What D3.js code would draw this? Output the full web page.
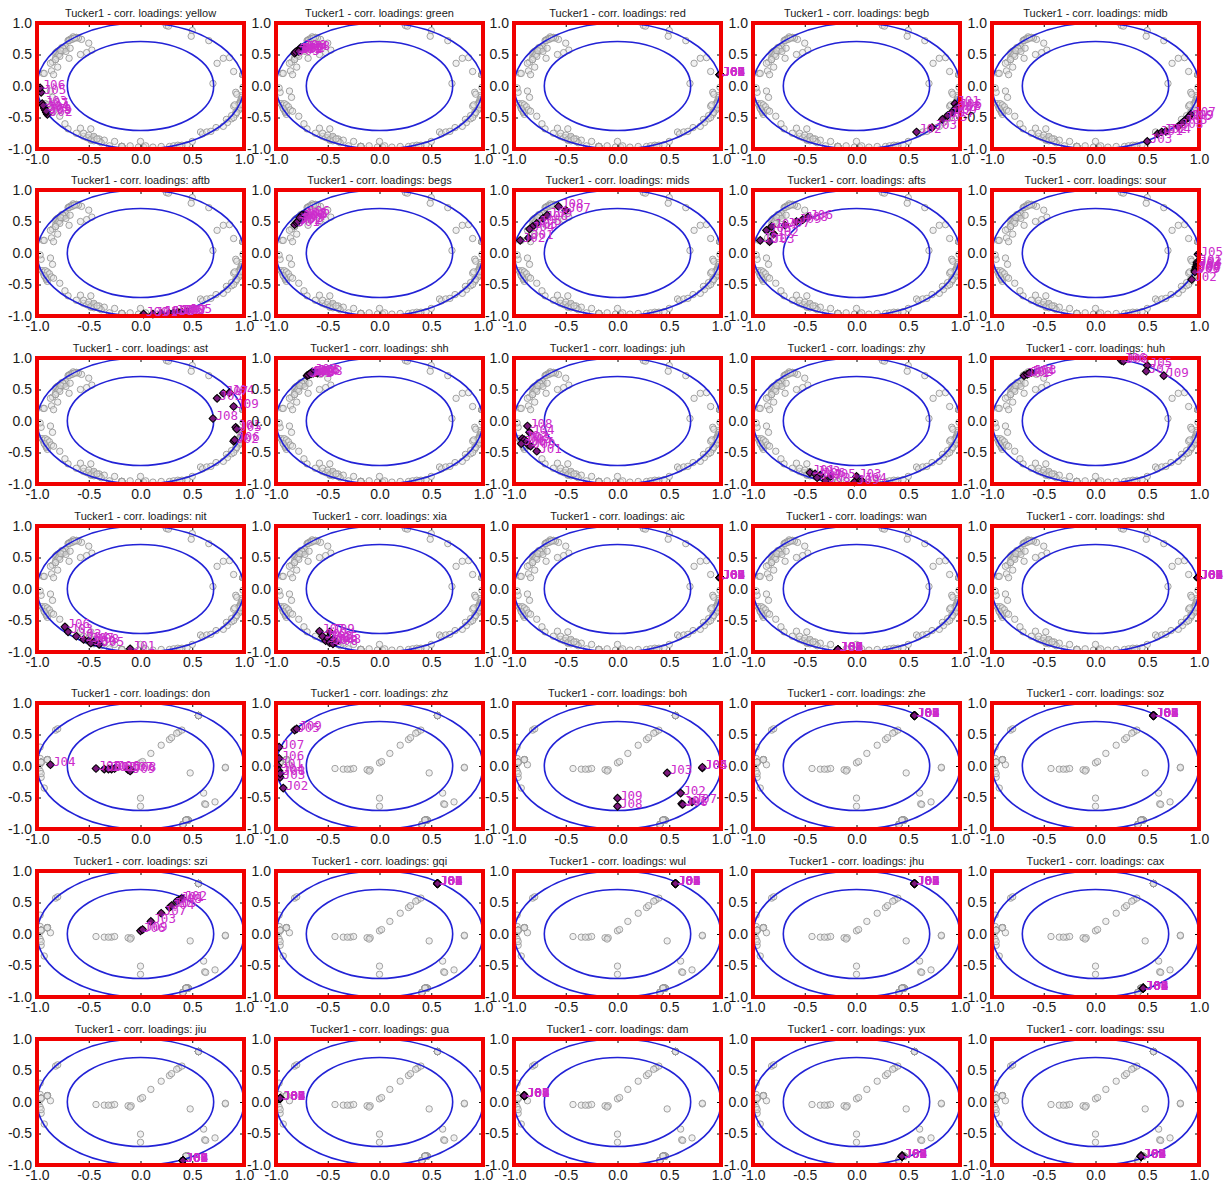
<!DOCTYPE html>
<html>
<head>
<meta charset="utf-8">
<script src="https://cdn.jsdelivr.net/npm/d3@7"></script>
<style>
  body { margin: 0; background: #fff; }
</style>
</head>
<body>
<svg id="fig" width="1227" height="1187"></svg>
<script>
// Judges (assessors) whose correlation loadings are plotted in every panel
const judges = ["J01", "J02", "J03", "J04", "J05", "J06", "J07", "J08", "J09"];

// Correlation loadings [PC1, PC2] per attribute, one pair per judge J01..J09
// --- first attribute block ---
const yellow = [[-0.92,-0.38],[-0.90,-0.45],[-0.95,-0.28],[-0.93,-0.35],[-0.96,-0.10],[-0.97,-0.03],[-0.94,-0.31],[-0.91,-0.42],[-0.91,-0.40]];
const green  = [[-0.80,0.55],[-0.77,0.57],[-0.82,0.52],[-0.74,0.60],[-0.79,0.56],[-0.76,0.61],[-0.81,0.54],[-0.72,0.59],[-0.78,0.55]];
const red    = [[0.99,0.18],[0.99,0.18],[0.99,0.18],[0.99,0.18],[0.99,0.18],[0.99,0.18],[0.99,0.18],[0.99,0.18],[0.99,0.18]];
const begb   = [[0.95,-0.28],[0.58,-0.73],[0.73,-0.66],[0.88,-0.47],[0.83,-0.53],[0.97,-0.33],[0.95,-0.38],[0.96,-0.35],[0.92,-0.42]];
const midb   = [[0.60,-0.76],[0.64,-0.73],[0.50,-0.88],[0.68,-0.72],[0.84,-0.58],[0.88,-0.52],[0.92,-0.45],[0.80,-0.64],[0.90,-0.50]];
const aftb   = [[0.12,-0.97],[0.28,-0.96],[0.20,-0.96],[0.32,-0.95],[0.45,-0.93],[0.36,-0.94],[0.40,-0.94],[0.38,-0.95],[0.03,-0.97]];
const begs   = [[-0.82,0.45],[-0.80,0.48],[-0.78,0.52],[-0.76,0.55],[-0.74,0.58],[-0.72,0.62],[-0.79,0.50],[-0.75,0.60],[-0.77,0.56]];
const mids   = [[-0.86,0.24],[-0.94,0.20],[-0.82,0.42],[-0.85,0.38],[-0.78,0.47],[-0.72,0.55],[-0.50,0.68],[-0.57,0.74],[-0.68,0.60]];
const afts   = [[-0.93,0.20],[-0.80,0.30],[-0.84,0.18],[-0.82,0.42],[-0.87,0.36],[-0.47,0.57],[-0.69,0.44],[-0.52,0.53],[-0.58,0.50]];
const sour   = [[0.98,-0.15],[0.93,-0.42],[0.98,-0.18],[0.97,-0.22],[0.99,-0.02],[0.97,-0.24],[0.97,-0.26],[0.96,-0.28],[0.96,-0.30]];
const ast    = [[0.92,-0.10],[0.90,-0.32],[0.74,0.36],[0.86,0.45],[0.93,-0.13],[0.91,-0.30],[0.80,0.44],[0.70,0.04],[0.90,0.23]];
const shh    = [[-0.70,0.72],[-0.68,0.74],[-0.66,0.75],[-0.64,0.76],[-0.62,0.77],[-0.69,0.73],[-0.65,0.78],[-0.60,0.76],[-0.67,0.75]];
const juh    = [[-0.78,-0.48],[-0.92,-0.28],[-0.90,-0.30],[-0.85,-0.18],[-0.88,-0.33],[-0.93,-0.36],[-0.86,-0.38],[-0.87,-0.08],[-0.84,-0.40]];
const zhy    = [[-0.45,-0.82],[-0.40,-0.84],[0.00,-0.88],[0.05,-0.95],[-0.25,-0.88],[-0.35,-0.86],[-0.38,-0.90],[-0.30,-0.95],[-0.02,-0.97]];
const huh    = [[-0.69,0.72],[-0.66,0.74],[-0.62,0.77],[-0.64,0.76],[0.50,0.88],[0.25,0.96],[0.49,0.79],[0.27,0.95],[0.66,0.72]];
const nit    = [[-0.10,-0.95],[-0.62,-0.75],[-0.70,-0.68],[-0.55,-0.80],[-0.40,-0.88],[-0.73,-0.60],[-0.50,-0.82],[-0.45,-0.84],[-0.48,-0.86]];
const xia    = [[-0.52,-0.82],[-0.55,-0.75],[-0.50,-0.78],[-0.48,-0.85],[-0.45,-0.80],[-0.45,-0.87],[-0.58,-0.67],[-0.42,-0.84],[-0.48,-0.68]];
const aic    = [[0.99,0.18],[0.99,0.18],[0.99,0.18],[0.99,0.18],[0.99,0.18],[0.99,0.18],[0.99,0.18],[0.99,0.18],[0.99,0.18]];
const wan    = [[-0.18,-0.96],[-0.18,-0.96],[-0.18,-0.96],[-0.18,-0.96],[-0.18,-0.96],[-0.18,-0.96],[-0.18,-0.96],[-0.18,-0.96],[-0.18,-0.96]];
const shd    = [[0.99,0.18],[0.99,0.18],[0.99,0.18],[0.99,0.18],[0.99,0.18],[0.99,0.18],[0.99,0.18],[0.99,0.18],[0.99,0.18]];

// --- second attribute block ---
const don = [[-0.35,-0.05],[-0.28,-0.05],[-0.31,-0.05],[-0.87,0.02],[-0.43,-0.04],[-0.25,-0.04],[-0.12,-0.06],[-0.09,-0.06],[-0.10,-0.08]];
const zhz = [[-0.98,0.00],[-0.93,-0.35],[-0.96,-0.18],[-0.97,-0.08],[-0.82,0.57],[-0.97,0.12],[-0.97,0.30],[-0.96,-0.12],[-0.80,0.59]];
const boh = [[0.62,-0.60],[0.61,-0.43],[0.48,-0.11],[0.82,-0.03],[0.82,-0.02],[0.63,-0.61],[0.72,-0.57],[0.00,-0.64],[0.00,-0.51]];
const zhe = [[0.56,0.80],[0.56,0.80],[0.56,0.80],[0.56,0.80],[0.56,0.80],[0.56,0.80],[0.56,0.80],[0.56,0.80],[0.56,0.80]];
const soz = [[0.56,0.80],[0.56,0.80],[0.56,0.80],[0.56,0.80],[0.56,0.80],[0.56,0.80],[0.56,0.80],[0.56,0.80],[0.56,0.80]];
const szi = [[0.37,0.54],[0.40,0.57],[0.10,0.20],[0.28,0.42],[0.30,0.45],[0.00,0.05],[0.20,0.33],[0.35,0.52],[0.02,0.07]];
const gqi = [[0.56,0.80],[0.56,0.80],[0.56,0.80],[0.56,0.80],[0.56,0.80],[0.56,0.80],[0.56,0.80],[0.56,0.80],[0.56,0.80]];
const wul = [[0.56,0.80],[0.56,0.80],[0.56,0.80],[0.56,0.80],[0.56,0.80],[0.56,0.80],[0.56,0.80],[0.56,0.80],[0.56,0.80]];
const jhu = [[0.56,0.80],[0.56,0.80],[0.56,0.80],[0.56,0.80],[0.56,0.80],[0.56,0.80],[0.56,0.80],[0.56,0.80],[0.56,0.80]];
const cax = [[0.46,-0.86],[0.46,-0.86],[0.46,-0.86],[0.46,-0.86],[0.46,-0.86],[0.46,-0.86],[0.46,-0.86],[0.46,-0.86],[0.46,-0.86]];
const jiu = [[0.41,-0.93],[0.41,-0.93],[0.41,-0.93],[0.41,-0.93],[0.41,-0.93],[0.41,-0.93],[0.41,-0.93],[0.41,-0.93],[0.41,-0.93]];
const gua = [[-0.96,0.06],[-0.96,0.06],[-0.96,0.06],[-0.96,0.06],[-0.96,0.06],[-0.96,0.06],[-0.96,0.06],[-0.96,0.06],[-0.96,0.06]];
const dam = [[-0.90,0.10],[-0.90,0.10],[-0.90,0.10],[-0.90,0.10],[-0.90,0.10],[-0.90,0.10],[-0.90,0.10],[-0.90,0.10],[-0.90,0.10]];
const yux = [[0.44,-0.86],[0.44,-0.86],[0.44,-0.86],[0.44,-0.86],[0.44,-0.86],[0.44,-0.86],[0.44,-0.86],[0.44,-0.86],[0.44,-0.86]];
const ssu = [[0.44,-0.86],[0.44,-0.86],[0.44,-0.86],[0.44,-0.86],[0.44,-0.86],[0.44,-0.86],[0.44,-0.86],[0.44,-0.86],[0.44,-0.86]];

const attrsTop = ["yellow","green","red","begb","midb","aftb","begs","mids","afts","sour",
                  "ast","shh","juh","zhy","huh","nit","xia","aic","wan","shd"];
const loadTop  = [yellow, green, red, begb, midb, aftb, begs, mids, afts, sour,
                  ast, shh, juh, zhy, huh, nit, xia, aic, wan, shd];
const attrsBottom = ["don","zhz","boh","zhe","soz","szi","gqi","wul","jhu","cax",
                     "jiu","gua","dam","yux","ssu"];
const loadBottom  = [don, zhz, boh, zhe, soz, szi, gqi, wul, jhu, cax,
                     jiu, gua, dam, yux, ssu];

const tickValues = [-1.0, -0.5, 0.0, 0.5, 1.0];
// explained-variance reference circles: 100 % and 50 %
const circleRadii = [1.0, Math.sqrt(0.5)];

// ---- layout ----
const colLeft = [37, 276, 514, 753, 992];
const rowTop  = [23, 190, 358, 526, 703, 871, 1039];
const W = 207, H = 126;

const svg = d3.select("#fig");
const fmt = d => d.toFixed(1);
let clipId = 0;

function panel(row, col, title, pts, background) {
  const L = colLeft[col], T = rowTop[row];
  const x = d3.scaleLinear().domain([-1, 1]).range([L, L + W]);
  const y = d3.scaleLinear().domain([-1, 1]).range([T + H, T]);
  const g = svg.append("g");

  const cid = "clip" + (clipId++);
  g.append("clipPath").attr("id", cid)
    .append("rect").attr("x", L).attr("y", T).attr("width", W).attr("height", H);
  const inner = g.append("g").attr("clip-path", `url(#${cid})`);

  // all loadings of the block, as grey open circles
  inner.selectAll("circle.bg").data(background).join("circle")
    .attr("class", "bg")
    .attr("cx", d => x(d[0])).attr("cy", d => y(d[1])).attr("r", 3.2)
    .attr("fill", "#e4e4e4").attr("fill-opacity", 0.5)
    .attr("stroke", "#999").attr("stroke-width", 0.9);

  // reference circles
  inner.selectAll("ellipse").data(circleRadii).join("ellipse")
    .attr("cx", x(0)).attr("cy", y(0))
    .attr("rx", r => x(r) - x(0)).attr("ry", r => y(0) - y(r))
    .attr("fill", "none").attr("stroke", "#2222d6").attr("stroke-width", 1.6);

  // judges' loadings for this attribute
  const diamond = d3.symbol(d3.symbolSquare, 30);
  g.selectAll("path.pt").data(pts).join("path")
    .attr("class", "pt")
    .attr("d", diamond)
    .attr("transform", d => `translate(${x(d[0])},${y(d[1])}) rotate(45)`)
    .attr("fill", "#7a167a").attr("stroke", "#000").attr("stroke-width", 1);

  // axes with inward ticks on all four sides
  const styleAxis = sel => {
    sel.select(".domain").remove();
    sel.selectAll(".tick line").attr("stroke", "#000").attr("stroke-width", 1);
    sel.selectAll("text").attr("font-family", "'Liberation Sans', Arial, sans-serif")
      .attr("font-size", 14).attr("fill", "#1a1a1a");
  };
  g.append("g").attr("transform", `translate(0,${T + H})`)
    .call(d3.axisBottom(x).tickValues(tickValues).tickFormat(fmt).tickSizeInner(-4).tickSizeOuter(0).tickPadding(5))
    .call(styleAxis);
  g.append("g").attr("transform", `translate(0,${T})`)
    .call(d3.axisTop(x).tickValues(tickValues).tickFormat("").tickSizeInner(-4).tickSizeOuter(0))
    .call(styleAxis);
  g.append("g").attr("transform", `translate(${L},0)`)
    .call(d3.axisLeft(y).tickValues(tickValues).tickFormat(fmt).tickSizeInner(-4).tickSizeOuter(0).tickPadding(5))
    .call(styleAxis);
  g.append("g").attr("transform", `translate(${L + W},0)`)
    .call(d3.axisRight(y).tickValues(tickValues).tickFormat("").tickSizeInner(-4).tickSizeOuter(0))
    .call(styleAxis);

  // red frame
  g.append("rect").attr("x", x(-1)).attr("y", y(1))
    .attr("width", x(1) - x(-1)).attr("height", y(-1) - y(1))
    .attr("fill", "none").attr("stroke", "#f00000").attr("stroke-width", 4);

  // judge labels
  g.selectAll("text.lab").data(pts).join("text")
    .attr("class", "lab")
    .attr("x", d => x(d[0]) + 2.5).attr("y", d => y(d[1]) + 1.5)
    .attr("font-family", "'DejaVu Sans Mono', monospace").attr("font-size", 12.5)
    .attr("fill", "#cc2ccc")
    .text((d, i) => judges[i]);

  // title
  g.append("text").attr("x", L + W / 2).attr("y", T - 6)
    .attr("text-anchor", "middle")
    .attr("font-family", "'Liberation Sans', Arial, sans-serif").attr("font-size", 11)
    .attr("fill", "#1a1a1a")
    .text("Tucker1 - corr. loadings: " + title);
}

const bgTop = loadTop.flat();
attrsTop.forEach((a, i) => panel(Math.floor(i / 5), i % 5, a, loadTop[i], bgTop));
const bgBottom = loadBottom.flat();
attrsBottom.forEach((a, i) => panel(4 + Math.floor(i / 5), i % 5, a, loadBottom[i], bgBottom));
</script>
</body>
</html>
